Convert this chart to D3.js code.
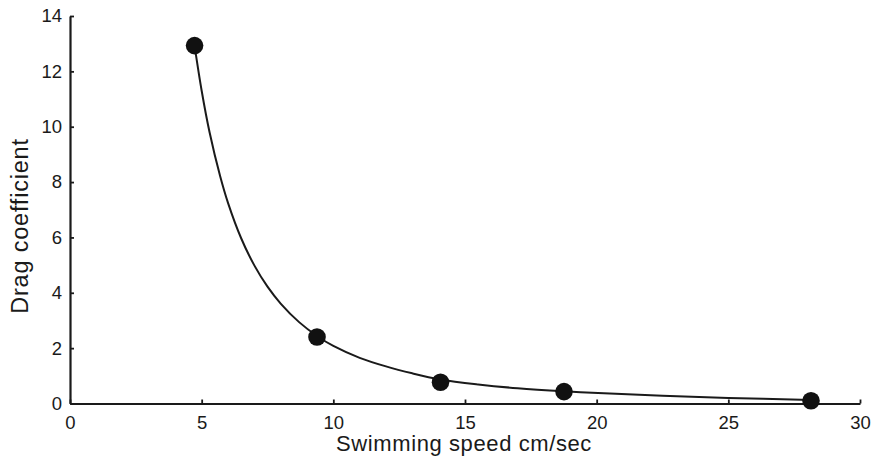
<!DOCTYPE html>
<html>
<head>
<meta charset="utf-8">
<script src="https://cdn.jsdelivr.net/npm/d3@7"></script>
<style>
  html, body { margin: 0; padding: 0; background: #fff; }
  svg { display: block; }
  text { font-family: "Liberation Sans", Arial, Helvetica, sans-serif; fill: #1a1a1a; }
</style>
</head>
<body>
<svg id="chart" width="871" height="463"></svg>
<script>
// Measured data points
const speeds = [4.73, 9.38, 14.07, 18.76, 28.14];
const dragCoef = [12.93, 2.40, 0.77, 0.43, 0.10];

// Fitted curve
const curveX = [4.73, 5.0, 5.3, 5.7, 6.0, 6.5, 7.0, 7.5, 8.0, 8.7, 9.38, 10.0, 11.0, 12.0, 13.0, 14.07, 15.5, 17.0, 18.76, 20.5, 22.5, 25.0, 28.14];
const curveY = [12.93, 11.3, 9.8, 8.22, 7.25, 5.97, 4.99, 4.22, 3.61, 2.94, 2.44, 2.08, 1.65, 1.34, 1.09, 0.87, 0.69, 0.55, 0.44, 0.36, 0.28, 0.20, 0.13];

// Axis ticks
const xTicks = [0, 5, 10, 15, 20, 25, 30];
const yTicks = [0, 2, 4, 6, 8, 10, 12, 14];
const xTitle = "Swimming speed cm/sec";
const yTitle = "Drag coefficient";

const svg = d3.select("#chart");
const W = 871, H = 463;
const m = { left: 70, right: 11, top: 16, bottom: 59.5 };

const x = d3.scaleLinear().domain([0, 30]).range([m.left, W - m.right]);
const y = d3.scaleLinear().domain([0, 14]).range([H - m.bottom, m.top]);

const ink = "#1a1a1a";

// X axis (ticks inward)
const xAxis = svg.append("g")
  .attr("transform", `translate(0,${y(0)})`)
  .call(d3.axisBottom(x).tickValues(xTicks).tickSize(-4).tickSizeOuter(0).tickPadding(10).tickFormat(d3.format("d")));
xAxis.select(".domain").attr("stroke", ink).attr("stroke-width", 2.2);
xAxis.selectAll(".tick line").attr("stroke", ink).attr("stroke-width", 1.8);
xAxis.selectAll(".tick text").attr("font-size", "18.5px").attr("fill", ink).attr("dy", null).attr("y", 25.5);

// Y axis (ticks inward)
const yAxis = svg.append("g")
  .attr("transform", `translate(${x(0)},0)`)
  .call(d3.axisLeft(y).tickValues(yTicks).tickSize(-4).tickSizeOuter(0).tickPadding(8).tickFormat(d3.format("d")));
yAxis.select(".domain").attr("stroke", ink).attr("stroke-width", 2.2);
yAxis.selectAll(".tick line").attr("stroke", ink).attr("stroke-width", 1.8);
yAxis.selectAll(".tick text").attr("font-size", "18.5px").attr("fill", ink).attr("x", -8);

// Axis titles
svg.append("text")
  .attr("x", (x(0) + x(30)) / 2 - 1)
  .attr("y", 451)
  .attr("text-anchor", "middle")
  .attr("font-size", "22px")
  .attr("letter-spacing", "0.6px")
  .text(xTitle);

svg.append("text")
  .attr("transform", `translate(28,226) rotate(-90)`)
  .attr("text-anchor", "middle")
  .attr("font-size", "23.5px")
  .attr("letter-spacing", "0.8px")
  .text(yTitle);

// Curve
const curveData = curveX.map((d, i) => [d, curveY[i]]);
svg.append("path")
  .datum(curveData)
  .attr("fill", "none")
  .attr("stroke", ink)
  .attr("stroke-width", 2)
  .attr("d", d3.line().x(d => x(d[0])).y(d => y(d[1])).curve(d3.curveCatmullRom.alpha(0.5)));

// Points
svg.append("g").selectAll("circle")
  .data(speeds.map((d, i) => [d, dragCoef[i]]))
  .join("circle")
  .attr("cx", d => x(d[0]))
  .attr("cy", d => y(d[1]))
  .attr("r", 8.8)
  .attr("fill", "#111");
</script>
</body>
</html>
